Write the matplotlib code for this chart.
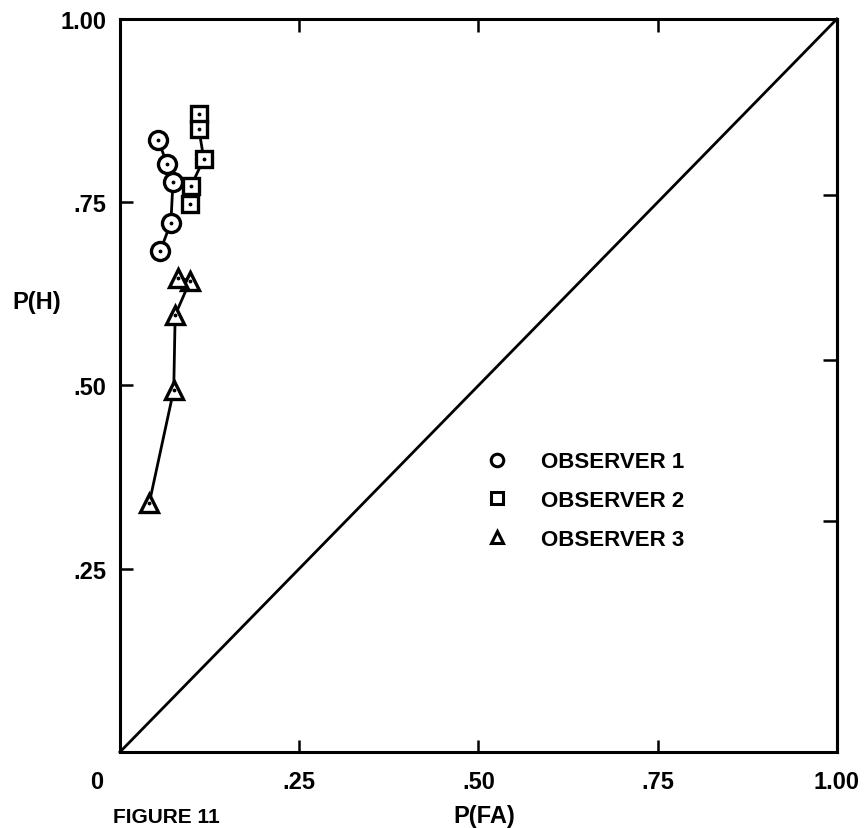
import matplotlib.pyplot as plt
from matplotlib.lines import Line2D
from matplotlib.transforms import ScaledTranslation

# hit rate vs false-alarm rate for the three observers
obs1_fa = [0.053, 0.066, 0.074, 0.071, 0.056]
obs1_h = [0.835, 0.802, 0.778, 0.722, 0.683]

obs2_fa = [0.110, 0.110, 0.117, 0.099, 0.097]
obs2_h = [0.870, 0.850, 0.809, 0.772, 0.748]

obs3_fa = [0.041, 0.075, 0.077, 0.098, 0.081]
obs3_h = [0.340, 0.494, 0.596, 0.643, 0.647]

ticks = [0, 0.25, 0.50, 0.75, 1.00]
xtick_labels = ["0", ".25", ".50", ".75", "1.00"]
ytick_labels = ["", ".25", ".50", ".75", "1.00"]
right_ticks = [0.315, 0.535, 0.76]

plt.rcParams["font.family"] = ["Liberation Sans", "DejaVu Sans"]
plt.rcParams["font.weight"] = "bold"
plt.rcParams["axes.labelweight"] = "bold"

fig = plt.figure(figsize=(8.68, 8.29), dpi=100)
ax = fig.add_axes([0.1382, 0.0917, 0.8260, 0.8842])

# chance line
ax.plot([0, 1], [0, 1], color="black", lw=2.0, clip_on=False)

series = [
    (obs1_fa, obs1_h, "o", 13),
    (obs2_fa, obs2_h, "s", 12),
    (obs3_fa, obs3_h, "^", 13),
]
for fa, h, m, ms in series:
    ax.plot(fa, h, color="black", lw=2.0, marker=m, markersize=ms,
            markerfacecolor="white", markeredgecolor="black", markeredgewidth=2.4)
    ax.plot(fa, h, ls="none", marker=".", markersize=3.5, color="black")

ax.set_xlim(0, 1)
ax.set_ylim(0, 1)

for s in ax.spines.values():
    s.set_linewidth(2.2)

ax.set_xticks(ticks, xtick_labels)
ax.set_yticks(ticks, ytick_labels)
ax.tick_params(axis="both", direction="in", length=9, width=1.8,
               labelsize=17, top=True)
ax.tick_params(axis="x", pad=13)
ax.tick_params(axis="y", pad=10, left=True)
ax.yaxis.get_major_ticks()[0].tick1line.set_visible(False)

# origin label sits left of the corner
lbl0 = ax.get_xticklabels()[0]
lbl0.set_transform(lbl0.get_transform() + ScaledTranslation(-0.23, 0, fig.dpi_scale_trans))

rt = ax.secondary_yaxis("right")
rt.set_yticks(right_ticks, ["", "", ""])
rt.tick_params(direction="in", length=10, width=1.8)
rt.spines["right"].set_linewidth(2.2)

ax.set_xlabel("P(FA)", fontsize=17)
ax.xaxis.set_label_coords(0.508, -0.071)
ax.set_ylabel("P(H)", fontsize=17, rotation=0, va="center", ha="center")
ax.yaxis.set_label_coords(-0.116, 0.614)

handles = [
    Line2D([], [], ls="none", marker="o", markersize=9, mfc="white", mec="black", mew=2.2),
    Line2D([], [], ls="none", marker="s", markersize=9, mfc="white", mec="black", mew=2.2),
    Line2D([], [], ls="none", marker="^", markersize=9, mfc="white", mec="black", mew=2.2),
]
ax.legend(handles, ["OBSERVER 1", "OBSERVER 2", "OBSERVER 3"],
          loc="upper left", bbox_to_anchor=(0.510, 0.41), frameon=False,
          fontsize=16, borderpad=0, borderaxespad=0, handlelength=1.0,
          handletextpad=1.5, labelspacing=0.8)

fig.text(113 / 868, 2 / 829, "FIGURE 11", fontsize=15, va="bottom", ha="left")

fig.savefig("out.png", dpi=100)
